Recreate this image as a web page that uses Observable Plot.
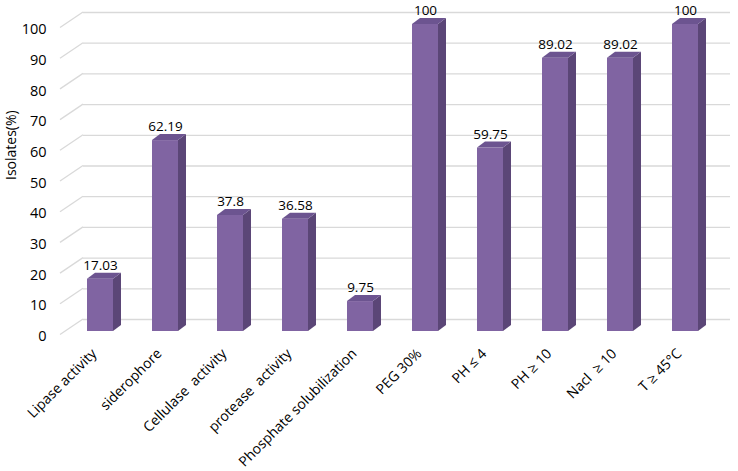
<!DOCTYPE html>
<html>
<head>
<meta charset="utf-8">
<script src="https://cdn.jsdelivr.net/npm/d3@7"></script>
<script src="https://cdn.jsdelivr.net/npm/@observablehq/plot@0.6"></script>
<style>
  html, body { margin: 0; padding: 0; background: #fff; }
  #chart svg text { white-space: pre; }
</style>
</head>
<body>
<div id="chart"></div>
<script>
// ---- data ----
const categories = [
  "Lipase activity",
  "siderophore",
  "Cellulase  activity",
  "protease  activity",
  "Phosphate solubilization",
  "PEG 30%",
  "PH \u2264 4",
  "PH \u2265 10",
  "Nacl  \u2265 10",
  "T \u2265 45\u00B0C"
];
const isolates = [17.03, 62.19, 37.8, 36.58, 9.75, 100, 59.75, 89.02, 89.02, 100];
const valueLabels = ["17.03", "62.19", "37.8", "36.58", "9.75", "100", "59.75", "89.02", "89.02", "100"];
const yTicks = [0, 10, 20, 30, 40, 50, 60, 70, 80, 90, 100];
const yTitle = "Isolates(%)";

const rows = categories.map((c, i) => ({category: c, value: isolates[i], label: valueLabels[i]}));

// ---- 3D styling ----
const FRONT = "#8064A2", SIDE = "#5B4677", TOP = "#6C5490", GRID = "#d9d9d9";
const DEPTH_X = 8, DEPTH_Y = 6;        // bar depth
const WALL_X = 23, WALL_Y = 12, FRONT_Y = 3.5, FRONT_X = 60; // wall geometry

const NS = "http://www.w3.org/2000/svg";
function poly(g, pts, fill) {
  const p = document.createElementNS(NS, "polygon");
  p.setAttribute("points", pts.map(d => d.join(",")).join(" "));
  p.setAttribute("fill", fill);
  g.appendChild(p);
}

// diagonal wall edges from the front axis to the back wall
function wallDiagonals(index, scales) {
  const g = document.createElementNS(NS, "g");
  const y = scales.y;
  for (const t of yTicks) {
    const l = document.createElementNS(NS, "line");
    l.setAttribute("x1", FRONT_X);
    l.setAttribute("y1", y(t) + FRONT_Y);
    l.setAttribute("x2", FRONT_X + WALL_X);
    l.setAttribute("y2", y(t) - WALL_Y);
    l.setAttribute("stroke", GRID);
    l.setAttribute("stroke-width", 1.3);
    g.appendChild(l);
  }
  return g;
}

// side and top faces of the bars
function barFaces(index, scales) {
  const g = document.createElementNS(NS, "g");
  const {x, y} = scales;
  const bw = x.bandwidth();
  rows.forEach(d => {
    const x0 = x(d.category), x1 = x0 + bw, yt = y(d.value), yb = y(0);
    poly(g, [[x1, yb], [x1, yt], [x1 + DEPTH_X, yt - DEPTH_Y], [x1 + DEPTH_X, yb - DEPTH_Y]], SIDE);
    poly(g, [[x0, yt], [x1, yt], [x1 + DEPTH_X, yt - DEPTH_Y], [x0 + DEPTH_X, yt - DEPTH_Y]], TOP);
  });
  return g;
}

const chart = Plot.plot({
  width: 738,
  height: 471,
  marginLeft: 48,
  marginRight: 1,
  marginTop: 24,
  marginBottom: 140,
  style: {fontFamily: "'Open Sans', sans-serif", fontSize: "14px", background: "#fff", color: "#000"},
  x: {domain: categories, padding: 0.6, axis: null},
  y: {domain: [0, 100], axis: null},
  marks: [
    Plot.ruleY(yTicks, {stroke: GRID, strokeWidth: 1.3, dy: -WALL_Y, insetLeft: FRONT_X + WALL_X - 48, insetRight: 7}),
    wallDiagonals,
    Plot.barY(rows, {x: "category", y: "value", fill: FRONT}),
    barFaces,
    Plot.text(rows, {x: "category", y: "value", text: "label", dy: -13.5, fontSize: 13.5, fill: "#000"}),
    Plot.text(yTicks, {y: d => d, text: d => String(d), frameAnchor: "left", textAnchor: "end", dx: -2, dy: 5, fontSize: 14.5, fill: "#000"}),
    Plot.text(categories, {x: d => d, text: d => d, frameAnchor: "bottom", rotate: -45, textAnchor: "end", dx: -3, dy: 23, fontSize: 14, fill: "#000"}),
    Plot.text([yTitle], {text: d => d, frameAnchor: "left", rotate: -90, dx: -37, dy: 2, fontSize: 14, fill: "#000"})
  ]
});
document.getElementById("chart").appendChild(chart);
</script>
</body>
</html>
